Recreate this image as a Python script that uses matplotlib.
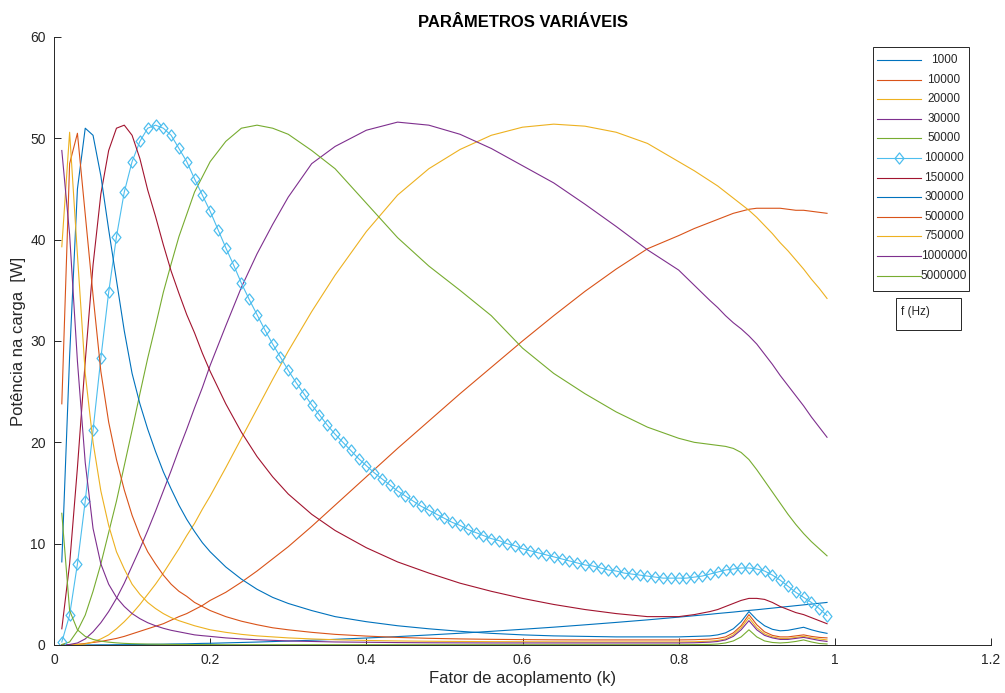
import numpy as np
import matplotlib
matplotlib.use("Agg")
import matplotlib.pyplot as plt
from matplotlib.path import Path
from matplotlib.patches import Rectangle

plt.rcParams['font.family'] = ['Liberation Sans', 'DejaVu Sans']

# coupling factor grid used by most curves
k_grid = [0.01, 0.02, 0.03, 0.04, 0.05, 0.06, 0.07, 0.08, 0.09, 0.10,
          0.11, 0.12, 0.13, 0.14, 0.15, 0.16, 0.17, 0.18, 0.19, 0.20,
          0.22, 0.24, 0.26, 0.28, 0.30, 0.33, 0.36, 0.40, 0.44, 0.48,
          0.52, 0.56, 0.60, 0.64, 0.68, 0.72, 0.76, 0.80, 0.82, 0.84,
          0.85, 0.86, 0.87, 0.88, 0.89, 0.90, 0.91, 0.92, 0.93, 0.94,
          0.95, 0.96, 0.97, 0.98, 0.99]

# fine grid (step 0.01) for the 100 kHz curve
k_fine = [round(0.01 * i, 2) for i in range(1, 100)]

frequencies = ['1000', '10000', '20000', '30000', '50000', '100000',
               '150000', '300000', '500000', '750000', '1000000', '5000000']

p_1k = [0.0, 0.0, 0.0, 0.01, 0.01, 0.02, 0.02, 0.03, 0.03, 0.04,
        0.05, 0.06, 0.07, 0.08, 0.10, 0.11, 0.12, 0.14, 0.16, 0.17,
        0.21, 0.25, 0.29, 0.34, 0.39, 0.47, 0.56, 0.69, 0.83, 0.99,
        1.16, 1.35, 1.55, 1.76, 1.99, 2.23, 2.48, 2.75, 2.89, 3.03,
        3.11, 3.18, 3.25, 3.33, 3.41, 3.48, 3.56, 3.64, 3.72, 3.80,
        3.88, 3.96, 4.04, 4.12, 4.20]

p_10k = [0.0, 0.03, 0.07, 0.15, 0.25, 0.35, 0.5, 0.65, 0.85, 1.1,
         1.35, 1.6, 1.85, 2.1, 2.45, 2.8, 3.1, 3.5, 3.9, 4.4,
         5.2, 6.2, 7.3, 8.5, 9.7, 11.7, 13.8, 16.6, 19.4, 22.1,
         24.8, 27.4, 30.0, 32.5, 34.9, 37.1, 39.1, 40.4, 41.1, 41.7,
         42.0, 42.3, 42.6, 42.8, 43.0, 43.1, 43.1, 43.1, 43.1, 43.0,
         42.9, 42.9, 42.8, 42.7, 42.6]

p_20k = [0.0, 0.02, 0.05, 0.1, 0.3, 0.6, 1.0, 1.6, 2.3, 3.1,
         4.0, 5.0, 6.0, 7.1, 8.3, 9.5, 10.8, 12.0, 13.4, 14.7,
         17.5, 20.4, 23.3, 26.2, 29.0, 32.9, 36.5, 40.8, 44.4, 47.0,
         48.9, 50.3, 51.1, 51.4, 51.2, 50.6, 49.5, 47.7, 46.8, 45.8,
         45.3, 44.7, 44.1, 43.5, 42.9, 42.2, 41.4, 40.6, 39.7, 38.9,
         38.0, 37.1, 36.1, 35.2, 34.2]

p_30k = [0.0, 0.05, 0.2, 0.6, 1.3, 2.2, 3.3, 4.6, 6.1, 7.8,
         9.5, 11.3, 13.2, 15.2, 17.2, 19.3, 21.3, 23.4, 25.4, 27.6,
         31.5, 35.3, 38.6, 41.5, 44.2, 47.5, 49.2, 50.8, 51.6, 51.3,
         50.4, 49.0, 47.3, 45.6, 43.5, 41.3, 39.0, 37.0, 35.5, 34.0,
         33.3, 32.5, 31.8, 31.2, 30.5, 29.7, 28.7, 27.7, 26.6, 25.6,
         24.6, 23.6, 22.5, 21.5, 20.5]

p_50k = [0.05, 0.3, 1.4, 2.95, 5.3, 8.0, 11.1, 14.2, 17.7, 21.2,
         24.8, 28.3, 31.5, 34.8, 37.6, 40.3, 42.5, 44.7, 46.2, 47.7,
         49.7, 51.0, 51.3, 51.0, 50.4, 48.8, 47.0, 43.6, 40.2, 37.4,
         35.0, 32.5, 29.3, 26.8, 24.8, 23.0, 21.5, 20.4, 20.0, 19.8,
         19.7, 19.6, 19.4, 19.0, 18.3, 17.3, 16.2, 15.1, 14.0, 12.9,
         11.9, 11.0, 10.2, 9.5, 8.8]

p_100k = [0.3, 2.95, 8.0, 14.2, 21.2, 28.3, 34.8, 40.3, 44.7, 47.7,
          49.7, 51.0, 51.3, 51.0, 50.3, 49.0, 47.7, 46.0, 44.4, 42.8,
          41.0, 39.2, 37.5, 35.7, 34.1, 32.6, 31.1, 29.7, 28.4, 27.1,
          25.9, 24.8, 23.7, 22.7, 21.7, 20.8, 20.0, 19.2, 18.4, 17.7,
          17.0, 16.4, 15.8, 15.2, 14.7, 14.2, 13.7, 13.3, 12.9, 12.5,
          12.1, 11.8, 11.4, 11.1, 10.8, 10.5, 10.3, 10.0, 9.8, 9.5,
          9.3, 9.1, 8.9, 8.7, 8.5, 8.3, 8.1, 7.9, 7.8, 7.6,
          7.4, 7.3, 7.1, 7.0, 6.9, 6.8, 6.7, 6.6, 6.6, 6.6,
          6.6, 6.7, 6.8, 7.0, 7.2, 7.4, 7.5, 7.6, 7.6, 7.5,
          7.3, 6.9, 6.4, 5.8, 5.2, 4.7, 4.2, 3.6, 2.9]

p_150k = [1.6, 8.0, 17.5, 28.0, 37.5, 44.5, 48.8, 51.0, 51.3, 50.3,
          48.0, 44.9, 42.3, 39.5, 36.9, 34.7, 32.6, 30.8, 28.8, 27.0,
          23.8, 21.0, 18.6, 16.6, 14.9, 12.9, 11.3, 9.6, 8.2, 7.1,
          6.1, 5.3, 4.6, 4.0, 3.5, 3.1, 2.8, 2.8, 3.0, 3.3,
          3.5, 3.8, 4.1, 4.4, 4.6, 4.6, 4.5, 4.2, 3.8, 3.5,
          3.2, 3.0, 2.7, 2.4, 2.1]

p_300k = [8.2, 28.5, 45.0, 51.0, 50.3, 46.3, 41.0, 36.0, 31.0, 26.8,
          23.8, 21.3, 19.1, 17.1, 15.4, 13.8, 12.4, 11.2, 10.1, 9.2,
          7.7, 6.5, 5.5, 4.7, 4.1, 3.4, 2.8, 2.3, 1.9, 1.6,
          1.35, 1.15, 1.0, 0.9, 0.85, 0.8, 0.8, 0.8, 0.85, 0.9,
          1.0, 1.2, 1.6, 2.3, 3.3, 2.5, 1.9, 1.55, 1.4, 1.45,
          1.6, 1.75, 1.5, 1.3, 1.15]

p_500k = [23.8, 47.5, 50.5, 42.5, 34.5, 27.0, 22.0, 18.3, 15.3, 12.8,
          10.8, 9.2, 8.0, 6.9, 6.0, 5.3, 4.8, 4.2, 3.8, 3.4,
          2.8, 2.35, 2.0, 1.7, 1.5, 1.25, 1.05, 0.88, 0.75, 0.66,
          0.6, 0.56, 0.53, 0.51, 0.5, 0.5, 0.5, 0.5, 0.52, 0.58,
          0.65, 0.8, 1.2, 1.9, 3.0, 2.0, 1.3, 0.95, 0.8, 0.8,
          0.9, 1.0, 0.85, 0.75, 0.7]

p_750k = [39.3, 50.6, 38.5, 26.8, 20.0, 15.2, 11.8, 9.2, 7.5, 6.0,
          5.0, 4.2, 3.6, 3.1, 2.7, 2.4, 2.15, 1.9, 1.7, 1.5,
          1.25, 1.05, 0.9, 0.8, 0.7, 0.6, 0.52, 0.45, 0.4, 0.37,
          0.35, 0.33, 0.32, 0.31, 0.3, 0.3, 0.3, 0.3, 0.32, 0.38,
          0.45, 0.6, 1.0, 1.7, 2.7, 1.7, 1.1, 0.8, 0.65, 0.65,
          0.75, 0.85, 0.7, 0.6, 0.5]

p_1M = [48.8, 40.5, 28.0, 18.0, 11.5, 8.0, 6.0, 4.7, 3.8, 3.1,
        2.6, 2.2, 1.9, 1.65, 1.45, 1.3, 1.15, 1.0, 0.92, 0.85,
        0.7, 0.6, 0.52, 0.46, 0.4, 0.35, 0.3, 0.27, 0.24, 0.22,
        0.21, 0.2, 0.2, 0.2, 0.2, 0.2, 0.2, 0.2, 0.22, 0.28,
        0.35, 0.5, 0.85, 1.5, 2.4, 1.5, 0.95, 0.7, 0.55, 0.55,
        0.65, 0.75, 0.6, 0.45, 0.35]

p_5M = [13.0, 3.4, 1.5, 0.85, 0.55, 0.38, 0.28, 0.21, 0.16, 0.13,
        0.11, 0.09, 0.08, 0.07, 0.06, 0.05, 0.05, 0.04, 0.04, 0.04,
        0.03, 0.03, 0.03, 0.03, 0.03, 0.03, 0.03, 0.03, 0.03, 0.03,
        0.03, 0.03, 0.03, 0.03, 0.03, 0.03, 0.03, 0.03, 0.04, 0.06,
        0.1, 0.2, 0.4, 0.8, 1.5, 0.8, 0.4, 0.25, 0.2, 0.25,
        0.35, 0.5, 0.3, 0.15, 0.1]

series = [p_1k, p_10k, p_20k, p_30k, p_50k, p_100k,
          p_150k, p_300k, p_500k, p_750k, p_1M, p_5M]

colors = ['#0072BD', '#D95319', '#EDB120', '#7E2F8E', '#77AC30', '#4DBEEE',
          '#A2142F', '#0072BD', '#D95319', '#EDB120', '#7E2F8E', '#77AC30']

# open diamond, slightly taller than wide
diamond = Path([(0, 1), (0.8, 0), (0, -1), (-0.8, 0), (0, 1)],
               [Path.MOVETO, Path.LINETO, Path.LINETO, Path.LINETO, Path.CLOSEPOLY])

LW = 0.8
fig = plt.figure(figsize=(10.05, 6.93), dpi=100)
ax = fig.add_axes([54 / 1005, 1 - 645 / 693, (991 - 54) / 1005, (645 - 37) / 693])

for label, vals, col in zip(frequencies, series, colors):
    if label == '100000':
        ax.plot(k_fine, vals, color=col, lw=LW, marker=diamond, ms=8,
                mfc='none', mec=col, mew=0.9)
    else:
        ax.plot(k_grid, vals, color=col, lw=LW)

ax.set_xlim(0, 1.2)
ax.set_ylim(0, 60)
ax.set_xticks([0, 0.2, 0.4, 0.6, 0.8, 1.0, 1.2])
ax.set_xticklabels(['0', '0.2', '0.4', '0.6', '0.8', '1', '1.2'])
ax.set_yticks([0, 10, 20, 30, 40, 50, 60])
ax.tick_params(direction='in', length=5, width=0.7, colors='#262626',
               labelsize=10, labelcolor='#262626', pad=6)
for side in ('top', 'right'):
    ax.spines[side].set_visible(False)
for side in ('left', 'bottom'):
    ax.spines[side].set_color('#262626')
    ax.spines[side].set_linewidth(0.7)

ax.set_title('PARÂMETROS VARIÁVEIS', fontsize=12, fontweight='bold', pad=7)
ax.set_xlabel('Fator de acoplamento (k)', fontsize=12, color='#262626', labelpad=3)
ax.set_ylabel('Potência na carga  [W]', fontsize=12, color='#262626', labelpad=3)

# legend box with one row per frequency
lx0, lx1 = 873 / 1005, 969 / 1005
ly0, ly1 = 1 - 291 / 693, 1 - 47 / 693
fig.patches.append(Rectangle((lx0, ly0), lx1 - lx0, ly1 - ly0, transform=fig.transFigure,
                             fill=True, facecolor='white', edgecolor='#262626', lw=0.7))
for i, (label, col) in enumerate(zip(frequencies, colors)):
    yrow = 1 - (60 + i * 19.6) / 693
    fig.add_artist(plt.Line2D([877 / 1005, 921 / 1005], [yrow, yrow],
                              transform=fig.transFigure, color=col, lw=LW))
    if label == '100000':
        fig.add_artist(plt.Line2D([899 / 1005], [yrow], transform=fig.transFigure,
                                  marker=diamond, ms=8, mfc='none', mec=col, mew=0.9,
                                  color=col))
    fig.text(944 / 1005, yrow, label, ha='center', va='center', fontsize=8.5, color='#262626')

fx0, fx1 = 896 / 1005, 961 / 1005
fy0, fy1 = 1 - 330 / 693, 1 - 298 / 693
fig.patches.append(Rectangle((fx0, fy0), fx1 - fx0, fy1 - fy0, transform=fig.transFigure,
                             fill=True, facecolor='white', edgecolor='#262626', lw=0.7))
fig.text(901 / 1005, 1 - 312 / 693, 'f (Hz)', ha='left', va='center', fontsize=8.5, color='#262626')

fig.savefig('out.png', dpi=100, facecolor='white')
